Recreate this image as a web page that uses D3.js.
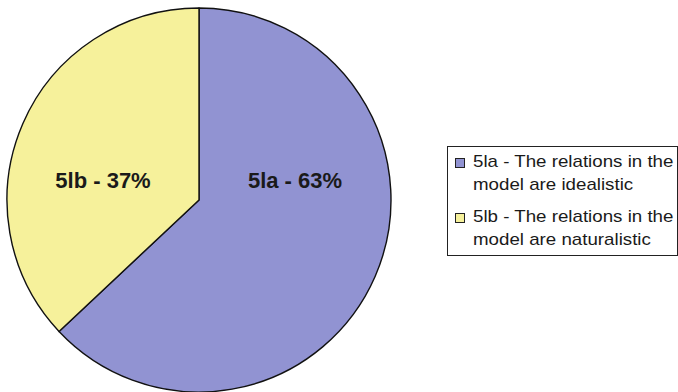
<!DOCTYPE html>
<html>
<head>
<meta charset="utf-8">
<script src="https://cdn.jsdelivr.net/npm/d3@7"></script>
<style>
  html, body { margin: 0; padding: 0; background: #fff; }
  svg { display: block; }
</style>
</head>
<body>
<svg id="chart" width="678" height="392"></svg>
<script>
// Share of answers per category
const categories = ["5la", "5lb"];
const values = [63, 37];
const legendLines = [
  ["5la - The relations in the", "model are idealistic"],
  ["5lb - The relations in the", "model are naturalistic"]
];
const colors = ["#9193D2", "#F6F19B"];

const svg = d3.select("#chart");
const cx = 199, cy = 200, radius = 192;

const pie = d3.pie().sort(null).value(d => d.value);
const arcs = pie(categories.map((c, i) => ({ cat: c, value: values[i], color: colors[i] })));
const arc = d3.arc().innerRadius(0).outerRadius(radius);

const g = svg.append("g").attr("transform", `translate(${cx},${cy})`);

g.selectAll("path.slice")
  .data(arcs)
  .join("path")
  .attr("class", "slice")
  .attr("d", arc)
  .attr("fill", d => d.data.color)
  .attr("stroke", "#111")
  .attr("stroke-width", 1.4)
  .attr("stroke-linejoin", "round");

// Slice labels: placed left/right of centre depending on which side the slice lies
g.selectAll("text.lbl")
  .data(arcs)
  .join("text")
  .attr("class", "lbl")
  .attr("x", d => {
    const mid = (d.startAngle + d.endAngle) / 2;
    return Math.sign(Math.sin(mid)) * radius * 0.5;
  })
  .attr("y", -radius * 0.063)
  .attr("text-anchor", "middle")
  .attr("font-family", "'Liberation Sans', Arial, Helvetica, sans-serif")
  .attr("font-weight", "bold")
  .attr("font-size", 22)
  .attr("fill", "#1a1a1a")
  .text(d => `${d.data.cat} - ${d.data.value}%`);

// Legend
const legend = svg.append("g").attr("transform", "translate(447,146)");
legend.append("rect")
  .attr("x", 0.5).attr("y", 0.5)
  .attr("width", 230).attr("height", 109)
  .attr("fill", "#fff")
  .attr("stroke", "#222")
  .attr("stroke-width", 1);

const items = legend.selectAll("g.item")
  .data(categories.map((c, i) => ({ cat: c, color: colors[i], lines: legendLines[i] })))
  .join("g")
  .attr("class", "item")
  .attr("transform", (d, i) => `translate(0,${i * 55})`);

items.append("rect")
  .attr("x", 8.5).attr("y", 12.5)
  .attr("width", 9).attr("height", 9)
  .attr("fill", d => d.color)
  .attr("stroke", "#222")
  .attr("stroke-width", 1);

const txt = items.append("text")
  .attr("transform", "translate(26,21) scale(1.17,1)")
  .attr("font-family", "'Liberation Sans', Arial, Helvetica, sans-serif")
  .attr("font-size", 16)
  .attr("fill", "#1a1a1a");

txt.selectAll("tspan")
  .data(d => d.lines)
  .join("tspan")
  .attr("x", 0)
  .attr("dy", (d, i) => i === 0 ? 0 : 23)
  .text(d => d);
</script>
</body>
</html>
